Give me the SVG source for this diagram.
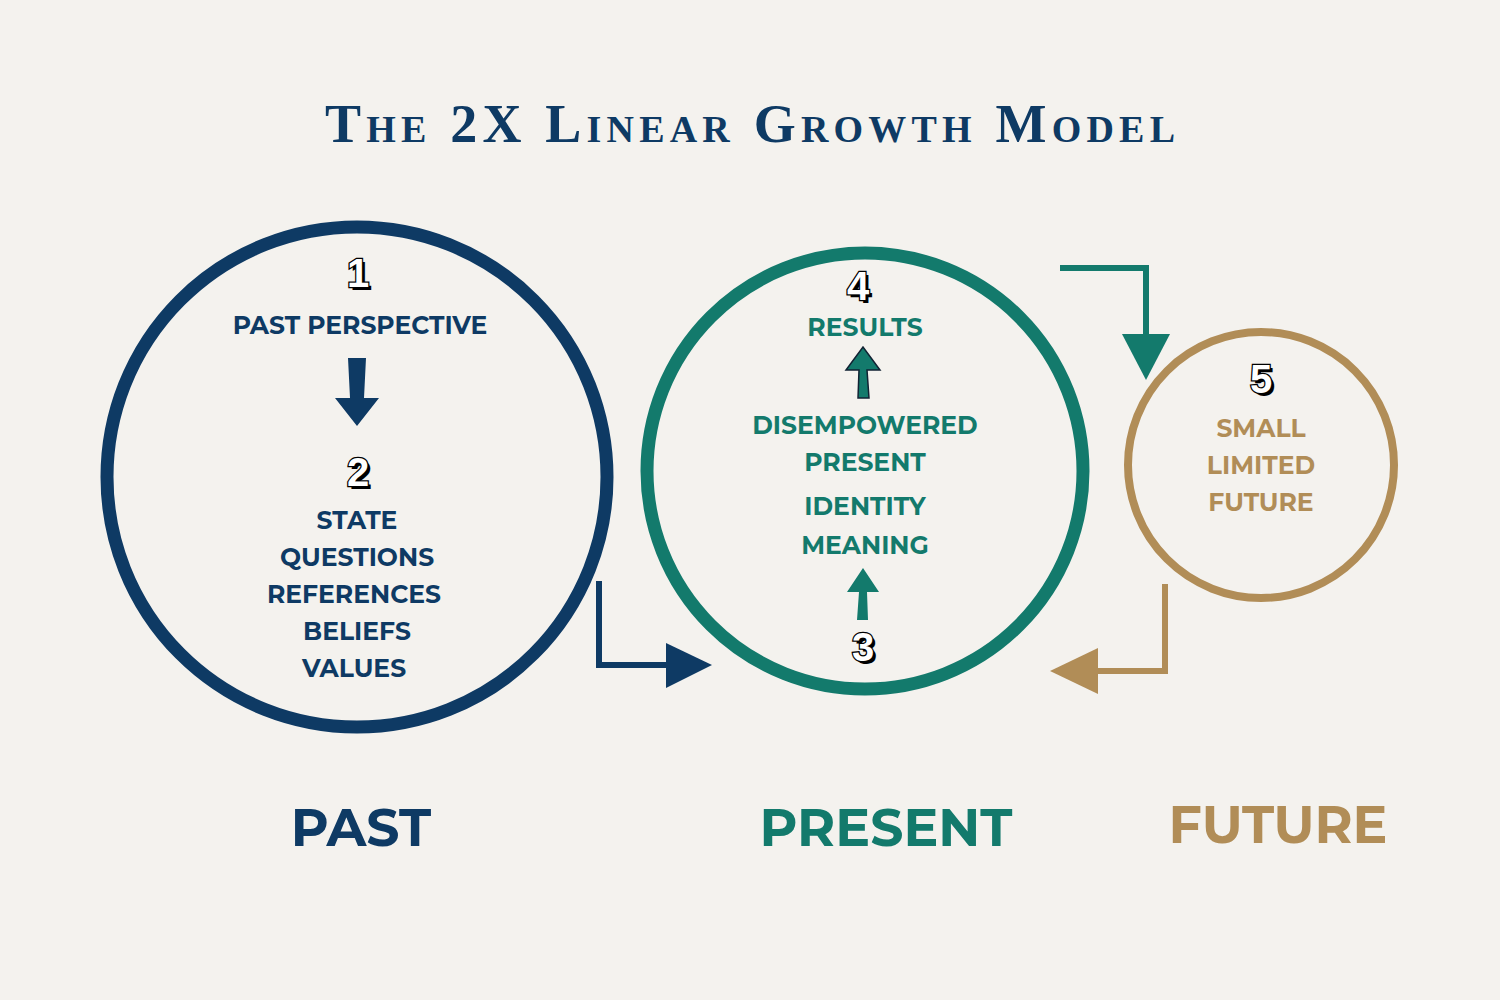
<svg xmlns="http://www.w3.org/2000/svg" width="1500" height="1000" viewBox="0 0 1500 1000">
<style>
.t{font-family:Montserrat,"Open Sans","Liberation Sans",sans-serif;font-weight:bold;text-anchor:middle}
.n{fill:#0e3a64}.g{fill:#137a6c}.o{fill:#b18d57}
.num{font-family:"Liberation Sans",sans-serif;font-weight:900;font-size:40px;text-anchor:middle}
.ns{fill:#000}.nf{fill:#fff;stroke:#000;stroke-width:2.5;paint-order:stroke}
</style>
<rect width="1500" height="1000" fill="#f4f2ee"/>
<text x="750" y="142" font-family="Liberation Serif,serif" font-weight="bold" font-size="54" font-variant="small-caps" text-anchor="middle" fill="#0e3a64" textLength="850">The 2X Linear Growth Model</text>
<g id="past">
<circle cx="357" cy="477" r="250" fill="none" stroke="#0e3a64" stroke-width="13"/>
<text class="num ns" x="361" y="290">1</text><text class="num nf" x="358" y="287">1</text>
<text class="t n" x="360" y="334" font-size="25">PAST PERSPECTIVE</text>
<polygon points="348,358 366,358 364,398 379,398 357,426 335,398 350,398" fill="#0e3a64"/>
<text class="num ns" x="361" y="489">2</text><text class="num nf" x="358" y="486">2</text>
<g class="t n" font-size="25">
<text x="357" y="529">STATE</text><text x="357" y="566">QUESTIONS</text><text x="354" y="603">REFERENCES</text><text x="357" y="640">BELIEFS</text><text x="354" y="677">VALUES</text></g>
</g>
<g id="present">
<circle cx="865" cy="471" r="218" fill="none" stroke="#137a6c" stroke-width="13"/>
<text class="num ns" x="861" y="303">4</text><text class="num nf" x="858" y="300">4</text>
<text class="t g" x="865" y="336" font-size="25">RESULTS</text>
<polygon points="858,398 869,398 867,370 880,370 863,347 846,370 859,370" fill="#137a6c" stroke="#123" stroke-width="1.5"/>
<g class="t g" font-size="25"><text x="865" y="434">DISEMPOWERED</text><text x="865" y="471">PRESENT</text><text x="865" y="515">IDENTITY</text><text x="865" y="554">MEANING</text></g>
<polygon points="857,620 868,620 867,592 879,592 863,568 847,592 859,592" fill="#137a6c"/>
<text class="num ns" x="866" y="664">3</text><text class="num nf" x="863" y="661">3</text>
</g>
<g id="future">
<circle cx="1261" cy="465" r="133" fill="none" stroke="#b18d57" stroke-width="8"/>
<text class="num ns" x="1264" y="396">5</text><text class="num nf" x="1261" y="393">5</text>
<g class="t o" font-size="25"><text x="1261" y="437">SMALL</text><text x="1261" y="474">LIMITED</text><text x="1261" y="511">FUTURE</text></g>
</g>
<g id="labels" class="t" font-size="52">
<text class="n" x="361" y="846">PAST</text><text class="g" x="886" y="846">PRESENT</text><text class="o" x="1278" y="843">FUTURE</text>
</g>
<g id="connectors">
<polyline points="599,581 599,665 668,665" fill="none" stroke="#0e3a64" stroke-width="6"/>
<polygon points="666,643 712,665 666,688" fill="#0e3a64"/>
<polyline points="1060,268 1146,268 1146,336" fill="none" stroke="#137a6c" stroke-width="6"/>
<polygon points="1122,334 1170,334 1146,380" fill="#137a6c"/>
<polyline points="1165,584 1165,671 1096,671" fill="none" stroke="#b18d57" stroke-width="6"/>
<polygon points="1098,648 1050,671 1098,694" fill="#b18d57"/>
</g>
</svg>
